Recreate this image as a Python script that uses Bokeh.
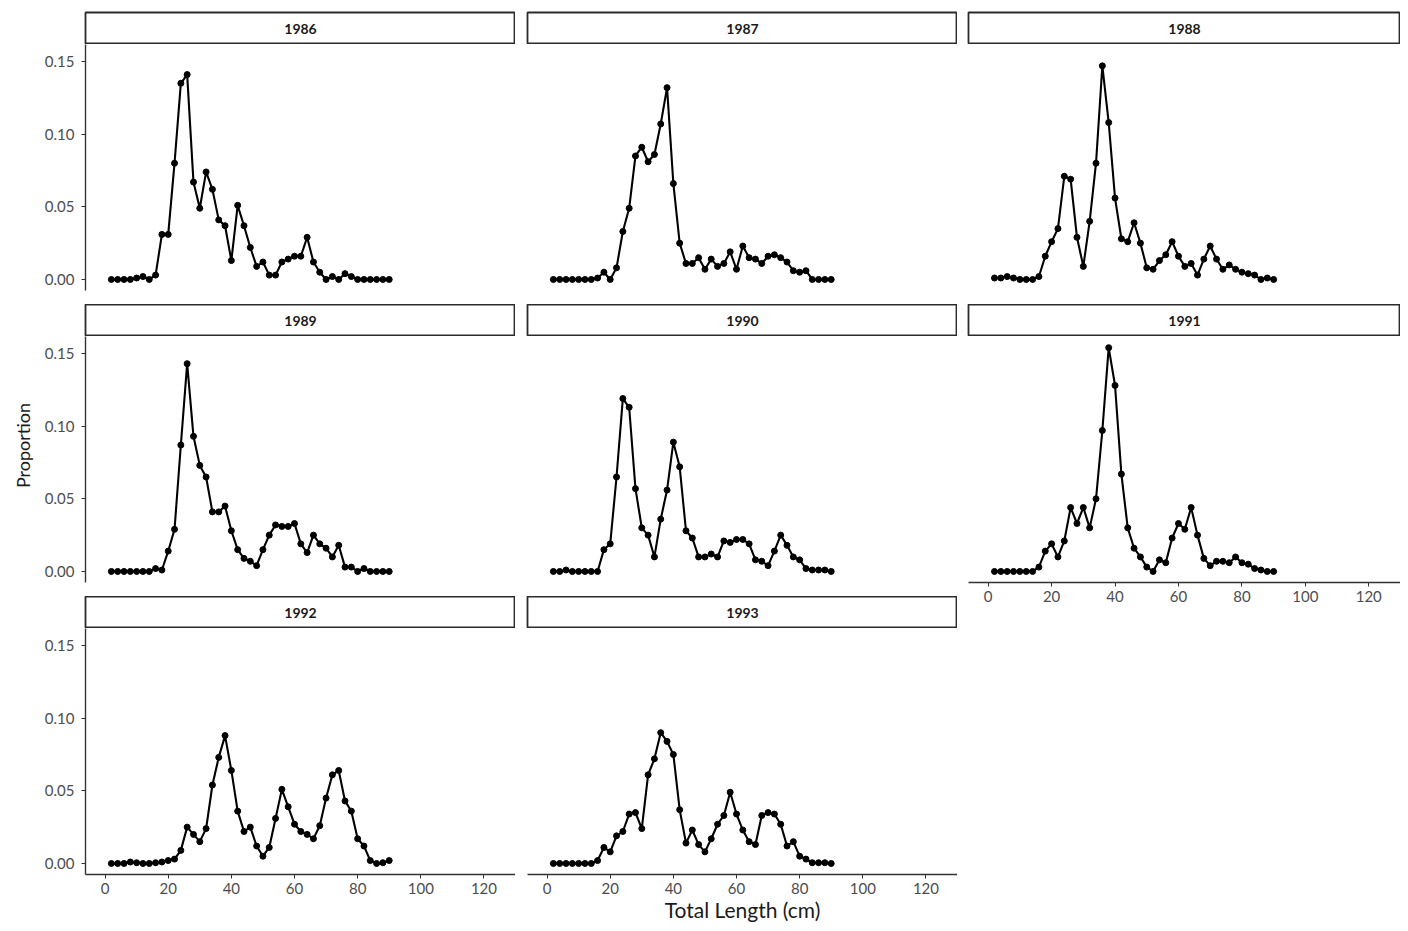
import math
from bokeh.plotting import figure
from bokeh.layouts import row, column
from bokeh.models import Range1d, FixedTicker, NumeralTickFormatter, ColumnDataSource
from bokeh.core.properties import value
from bokeh.embed import file_html
from bokeh.resources import INLINE

FONT = "Lato"

# ---------------- data ----------------
lengths = [2, 4, 6, 8, 10, 12, 14, 16, 18, 20, 22, 24, 26, 28, 30, 32, 34, 36, 38, 40,
           42, 44, 46, 48, 50, 52, 54, 56, 58, 60, 62, 64, 66, 68, 70, 72, 74, 76, 78, 80,
           82, 84, 86, 88, 90]

years = ["1986", "1987", "1988", "1989", "1990", "1991", "1992", "1993"]

p1986 = [0, 0, 0, 0, 0.001, 0.002, 0, 0.003, 0.031, 0.031, 0.080, 0.135, 0.141, 0.067, 0.049,
         0.074, 0.062, 0.041, 0.037, 0.013, 0.051, 0.037, 0.022, 0.009, 0.012, 0.003, 0.003,
         0.012, 0.014, 0.016, 0.016, 0.029, 0.012, 0.005, 0.0, 0.002, 0.0, 0.004, 0.002, 0.0,
         0, 0, 0, 0, 0]
p1987 = [0, 0, 0, 0, 0, 0, 0, 0.001, 0.005, 0, 0.008, 0.033, 0.049, 0.085, 0.091, 0.081,
         0.086, 0.107, 0.132, 0.066, 0.025, 0.011, 0.011, 0.015, 0.007, 0.014, 0.009, 0.011,
         0.019, 0.007, 0.023, 0.015, 0.014, 0.011, 0.016, 0.017, 0.015, 0.012, 0.006, 0.005,
         0.006, 0, 0, 0, 0]
p1988 = [0.001, 0.001, 0.002, 0.001, 0, 0, 0, 0.002, 0.016, 0.026, 0.035, 0.071, 0.069, 0.029,
         0.009, 0.040, 0.080, 0.147, 0.108, 0.056, 0.028, 0.026, 0.039, 0.025, 0.008, 0.007,
         0.013, 0.017, 0.026, 0.016, 0.009, 0.011, 0.003, 0.014, 0.023, 0.014, 0.007, 0.010,
         0.007, 0.005, 0.004, 0.003, 0, 0.001, 0]
p1989 = [0, 0, 0, 0, 0, 0, 0, 0.002, 0.001, 0.014, 0.029, 0.087, 0.143, 0.093, 0.073, 0.065,
         0.041, 0.041, 0.045, 0.028, 0.015, 0.009, 0.007, 0.004, 0.015, 0.025, 0.032, 0.031,
         0.031, 0.033, 0.019, 0.013, 0.025, 0.019, 0.016, 0.010, 0.018, 0.003, 0.003, 0,
         0.002, 0, 0, 0, 0]
p1990 = [0, 0, 0.001, 0, 0, 0, 0, 0, 0.015, 0.019, 0.065, 0.119, 0.113, 0.057, 0.030, 0.025,
         0.010, 0.036, 0.056, 0.089, 0.072, 0.028, 0.023, 0.010, 0.010, 0.012, 0.010, 0.021,
         0.020, 0.022, 0.022, 0.019, 0.008, 0.007, 0.004, 0.014, 0.025, 0.018, 0.010, 0.008,
         0.002, 0.001, 0.001, 0.001, 0]
p1991 = [0, 0, 0, 0, 0, 0, 0, 0.003, 0.014, 0.019, 0.010, 0.021, 0.044, 0.033, 0.044, 0.030,
         0.050, 0.097, 0.154, 0.128, 0.067, 0.030, 0.016, 0.010, 0.003, 0.0, 0.008, 0.006,
         0.023, 0.033, 0.029, 0.044, 0.025, 0.009, 0.004, 0.007, 0.007, 0.006, 0.010, 0.006,
         0.005, 0.002, 0.001, 0, 0]
p1992 = [0, 0, 0, 0.001, 0.0005, 0, 0, 0.0005, 0.001, 0.002, 0.003, 0.009, 0.025, 0.020, 0.015,
         0.024, 0.054, 0.073, 0.088, 0.064, 0.036, 0.022, 0.025, 0.012, 0.005, 0.011, 0.031,
         0.051, 0.039, 0.027, 0.022, 0.020, 0.017, 0.026, 0.045, 0.061, 0.064, 0.043, 0.036,
         0.017, 0.012, 0.002, 0, 0.0005, 0.002]
p1993 = [0, 0, 0, 0, 0, 0, 0, 0.002, 0.011, 0.008, 0.019, 0.022, 0.034, 0.035, 0.024, 0.061,
         0.072, 0.090, 0.084, 0.075, 0.037, 0.014, 0.023, 0.013, 0.008, 0.017, 0.027, 0.033,
         0.049, 0.034, 0.023, 0.015, 0.013, 0.033, 0.035, 0.034, 0.027, 0.012, 0.015, 0.005,
         0.003, 0.0005, 0.0005, 0.0005, 0]

x_ticks = [0, 20, 40, 60, 80, 100, 120]
y_ticks = [0.0, 0.05, 0.10, 0.15]

x_title = "Total Length (cm)"
y_title = "Proportion"

series = dict(zip(years, [p1986, p1987, p1988, p1989, p1990, p1991, p1992, p1993]))

# ---------------- styling ----------------
X_START, X_END = -6.2, 130.0
Y_START, Y_END = -0.0076, 0.1617
STRIP_H = 32
PANEL_H = 246
GAP = 14
TOP = 12
AX_COL = "#333333"
LAB_COL = "#4d4d4d"


def style_axis(ax):
    ax.axis_line_color = AX_COL
    ax.axis_line_width = 1.4
    ax.major_tick_line_color = AX_COL
    ax.major_tick_line_width = 1
    ax.major_tick_out = 4
    ax.major_tick_in = 0
    ax.minor_tick_line_color = None
    ax.major_label_text_font = FONT
    ax.major_label_text_font_size = "15px"
    ax.major_label_text_color = LAB_COL
    ax.major_label_standoff = 7


def strip(label, fw, left, top):
    p = figure(frame_width=fw, frame_height=STRIP_H, x_range=Range1d(0, 1), y_range=Range1d(0, 1),
               toolbar_location=None, output_backend="svg", x_axis_location=None,
               y_axis_location=None, min_border_left=left, min_border_right=0,
               min_border_top=top, min_border_bottom=0)
    p.xgrid.grid_line_color = None
    p.ygrid.grid_line_color = None
    p.outline_line_color = "#2b2b2b"
    p.outline_line_width = 1.8
    p.background_fill_color = "white"
    p.border_fill_color = "white"
    p.text(x=[0.5], y=[0.5], text=[label], text_align="center", text_baseline="middle",
           text_font=value(FONT), text_font_style="bold", text_font_size="14px",
           text_color="#1a1a1a")
    return p


def panel(year, fw, left, show_y, show_x, bottom, xlabel=None):
    p = figure(frame_width=fw, frame_height=PANEL_H,
               x_range=Range1d(X_START, X_END), y_range=Range1d(Y_START, Y_END),
               toolbar_location=None, output_backend="svg",
               x_axis_location="below" if show_x else None,
               y_axis_location="left" if show_y else None,
               min_border_left=left, min_border_right=0, min_border_top=0,
               min_border_bottom=bottom)
    p.xgrid.grid_line_color = None
    p.ygrid.grid_line_color = None
    p.outline_line_color = None
    p.background_fill_color = "white"
    p.border_fill_color = "white"
    src = ColumnDataSource(dict(x=lengths, y=series[year]))
    p.line("x", "y", source=src, line_color="black", line_width=2.1)
    p.scatter("x", "y", source=src, size=6, color="black")
    if show_y:
        ax = p.yaxis[0]
        style_axis(ax)
        ax.ticker = FixedTicker(ticks=y_ticks)
        ax.formatter = NumeralTickFormatter(format="0.00")
    if show_x:
        ax = p.xaxis[0]
        style_axis(ax)
        ax.ticker = FixedTicker(ticks=x_ticks)
        ax.major_label_standoff = 4
        if xlabel:
            ax.axis_label = xlabel
            ax.axis_label_text_font = FONT
            ax.axis_label_text_font_style = "normal"
            ax.axis_label_text_font_size = "21px"
            ax.axis_label_text_color = "#1a1a1a"
            ax.axis_label_standoff = 0
    return p


# columns: (frame width, left border)
C1 = (430, 47)
C2 = (430, 12)
C3 = (432, 11)

col1 = column(
    strip("1986", *C1, top=TOP), panel("1986", *C1, True, False, GAP),
    strip("1989", *C1, top=0), panel("1989", *C1, True, False, GAP),
    strip("1992", *C1, top=0), panel("1992", *C1, True, True, 0),
)
col2 = column(
    strip("1987", *C2, top=TOP), panel("1987", *C2, False, False, GAP),
    strip("1990", *C2, top=0), panel("1990", *C2, False, False, GAP),
    strip("1993", *C2, top=0), panel("1993", *C2, False, True, 0, xlabel=x_title),
)
col3 = column(
    strip("1988", *C3, top=TOP), panel("1988", *C3, False, False, GAP),
    strip("1991", *C3, top=0), panel("1991", *C3, False, True, 0),
)

# y-axis title
YL_W = 38
YL_H = 874
ylab = figure(frame_width=YL_W, frame_height=YL_H, x_range=Range1d(0, YL_W), y_range=Range1d(YL_H, 0),
              toolbar_location=None, output_backend="svg", x_axis_location=None,
              y_axis_location=None, min_border=0)
ylab.xgrid.grid_line_color = None
ylab.ygrid.grid_line_color = None
ylab.outline_line_color = None
ylab.border_fill_color = "white"
ylab.background_fill_color = "white"
ylab.text(x=[22], y=[445], text=[y_title], angle=math.pi / 2, text_align="center",
          text_baseline="middle", text_font=value(FONT), text_font_size="18px",
          text_color="#1a1a1a")

layout = row(ylab, col1, col2, col3)

open("out.html", "w").write(file_html(layout, INLINE))
